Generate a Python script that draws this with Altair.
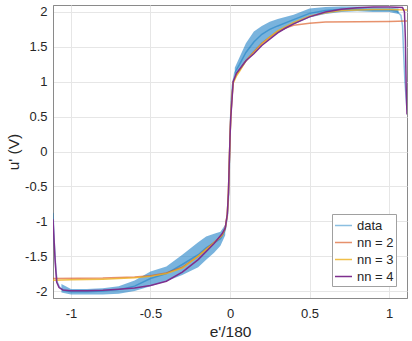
import altair as alt
import pandas as pd

# ---- data ----
series_names = ["data", "nn = 2", "nn = 3", "nn = 4"]
series_colors = ["#0072BD", "#D95319", "#EDB120", "#7E2F8E"]

data_x = [-1.113, -1.105, -1.095, -1.085, -1.07, -1.05, -1.0, -0.9, -0.8, -0.7, -0.6, -0.5, -0.4,
          -0.3, -0.2, -0.15, -0.1, -0.06, -0.03, -0.015, -0.008, -0.004, 0.0, 0.004, 0.008, 0.015,
          0.03, 0.06, 0.1, 0.15, 0.2, 0.25, 0.3, 0.4, 0.5, 0.6, 0.7, 0.8, 0.9, 1.0, 1.05, 1.075,
          1.085, 1.092, 1.1, 1.113]
data_y = [-0.88, -1.3, -1.7, -1.88, -1.95, -1.99, -2.01, -2.01, -2.0, -1.98, -1.93, -1.82, -1.75,
          -1.62, -1.48, -1.38, -1.31, -1.25, -1.13, -0.9, -0.6, -0.2, 0.2, 0.5, 0.75, 0.95,
          1.13, 1.25, 1.42, 1.57, 1.68, 1.75, 1.8, 1.89, 1.98, 2.02, 2.04, 2.04, 2.03, 2.03, 2.01, 1.95,
          1.8, 1.4, 1.0, 0.6]

band_x = [-1.06, -1.0, -0.9, -0.8, -0.7, -0.6, -0.5, -0.4, -0.3, -0.2, -0.15, -0.1, -0.06, -0.03,
          0.03, 0.06, 0.1, 0.15, 0.2, 0.25, 0.3, 0.4, 0.5, 0.6, 0.7, 0.8, 0.9, 1.0, 1.06]
band_lo = [-2.02, -2.05, -2.05, -2.05, -2.04, -2.0, -1.93, -1.86, -1.77, -1.66, -1.55, -1.45, -1.35, -1.2,
           1.05, 1.15, 1.28, 1.42, 1.55, 1.63, 1.7, 1.82, 1.92, 1.97, 2.0, 2.01, 2.0, 2.0, 1.97]
band_hi = [-1.9, -1.97, -1.97, -1.96, -1.93, -1.85, -1.72, -1.65, -1.48, -1.3, -1.22, -1.18, -1.15, -1.05,
           1.2, 1.35, 1.55, 1.72, 1.8, 1.86, 1.9, 1.96, 2.05, 2.07, 2.08, 2.08, 2.07, 2.06, 2.05]

nn2_x = [-1.113, -0.8, -0.6, -0.5, -0.4, -0.3, -0.2, -0.1, -0.05, -0.03, -0.017, -0.01, -0.005, 0.0,
         0.005, 0.01, 0.02, 0.04, 0.06, 0.1, 0.15, 0.2, 0.25, 0.3, 0.35, 0.4, 0.5, 0.6, 0.8, 1.0, 1.113]
nn2_y = [-1.82, -1.815, -1.8, -1.78, -1.74, -1.66, -1.5, -1.3, -1.2, -1.1, -0.9, -0.6, -0.2, 0.2,
         0.5, 0.7, 1.0, 1.1, 1.17, 1.3, 1.43, 1.55, 1.64, 1.72, 1.77, 1.81, 1.84, 1.855, 1.86, 1.865, 1.87]

nn3_x = [-1.113, -1.0, -0.8, -0.6, -0.5, -0.4, -0.3, -0.2, -0.1, -0.05, -0.03, -0.017, -0.01, -0.005,
         0.0, 0.005, 0.01, 0.02, 0.04, 0.06, 0.1, 0.15, 0.2, 0.25, 0.3, 0.4, 0.5, 0.6, 0.7, 0.8, 0.9,
         1.0, 1.113]
nn3_y = [-1.845, -1.84, -1.83, -1.81, -1.79, -1.75, -1.67, -1.5, -1.31, -1.2, -1.1, -0.9, -0.6, -0.2,
         0.2, 0.5, 0.7, 0.98, 1.08, 1.15, 1.3, 1.42, 1.54, 1.64, 1.73, 1.85, 1.94, 1.99, 2.02, 2.03, 2.035,
         2.035, 2.03]

nn4_x = [-1.113, -1.1, -1.09, -1.075, -1.05, -1.0, -0.9, -0.8, -0.7, -0.6, -0.5, -0.4, -0.3, -0.2,
         -0.1, -0.05, -0.03, -0.017, -0.01, -0.005, 0.0, 0.005, 0.01, 0.02, 0.04, 0.06, 0.1, 0.15,
         0.2, 0.25, 0.3, 0.35, 0.4, 0.5, 0.6, 0.7, 0.8, 0.9, 1.0, 1.085, 1.097, 1.103, 1.108, 1.113]
nn4_y = [-0.97, -1.55, -1.87, -1.95, -1.985, -1.995, -1.995, -1.99, -1.975, -1.955, -1.92, -1.86, -1.73,
         -1.55, -1.32, -1.18, -1.1, -0.9, -0.6, -0.2, 0.2, 0.5, 0.65, 1.0, 1.12, 1.18, 1.3, 1.4,
         1.52, 1.61, 1.7, 1.77, 1.83, 1.93, 2.0, 2.04, 2.06, 2.07, 2.07, 2.065, 2.0, 1.6, 0.9, 0.53]

x_ticks = [-1, -0.5, 0, 0.5, 1]
y_ticks = [-2, -1.5, -1, -0.5, 0, 0.5, 1, 1.5, 2]

# ---- tables ----
rows = []
for name, xs, ys in [("data", data_x, data_y), ("nn = 2", nn2_x, nn2_y),
                     ("nn = 3", nn3_x, nn3_y), ("nn = 4", nn4_x, nn4_y)]:
    for i, (a, b) in enumerate(zip(xs, ys)):
        rows.append({"x": a, "y": b, "series": name, "i": i})
lines_df = pd.DataFrame(rows)
band_df = pd.DataFrame({"x": band_x, "lo": band_lo, "hi": band_hi,
                        "part": ["L" if v < 0 else "R" for v in band_x]})

xscale = alt.Scale(domain=[-1.113, 1.113], nice=False, zero=False)
yscale = alt.Scale(domain=[-2.1, 2.1], nice=False, zero=False)

xaxis = alt.Axis(values=x_ticks, title="e'/180", labelExpr="datum.value + ''",
                 grid=True, ticks=False, labelPadding=9, titlePadding=4)
yaxis = alt.Axis(values=y_ticks, title="u' (V)", labelExpr="datum.value + ''",
                 grid=True, ticks=False, labelPadding=6, titlePadding=3)

band = alt.Chart(band_df).mark_area(color="#1f80c6", opacity=0.6, clip=True).encode(
    x=alt.X("x:Q", scale=xscale, axis=xaxis),
    y=alt.Y("lo:Q", scale=yscale, axis=yaxis),
    y2="hi:Q",
    detail="part:N",
)

lines = alt.Chart(lines_df).mark_line(strokeWidth=1.5, clip=True).encode(
    x=alt.X("x:Q", scale=xscale, axis=xaxis),
    y=alt.Y("y:Q", scale=yscale, axis=yaxis),
    color=alt.Color("series:N", scale=alt.Scale(domain=series_names, range=series_colors),
                    legend=alt.Legend(title=None)),
    opacity=alt.Opacity("series:N", scale=alt.Scale(domain=series_names, range=[0.45, 1, 1, 1]),
                        legend=alt.Legend(title=None)),
    order="i:Q",
)

chart = alt.layer(band, lines).properties(
    width=354, height=293,
    autosize=alt.AutoSizeParams(type="none"),
    padding={"left": 53, "top": 5, "right": 5, "bottom": 43},
).configure_view(
    stroke="#8a8a8a", strokeWidth=1,
).configure_axis(
    domainColor="#8a8a8a", gridColor="#e6e6e6", labelColor="#262626", titleColor="#262626",
    labelFont="Liberation Sans", titleFont="Liberation Sans", labelFontSize=13,
    titleFontSize=15.5, titleFontWeight="normal",
).configure_legend(
    orient="none", legendX=279, legendY=209, fillColor="white", strokeColor="#a0a0a0",
    padding=2, rowPadding=0, symbolType="stroke", symbolSize=289, symbolStrokeWidth=1.5,
    labelFont="Liberation Sans", labelFontSize=13, labelColor="#262626", labelOffset=4,
    cornerRadius=0,
)

chart.save("out.html", embed_options={"renderer": "svg", "actions": False})
